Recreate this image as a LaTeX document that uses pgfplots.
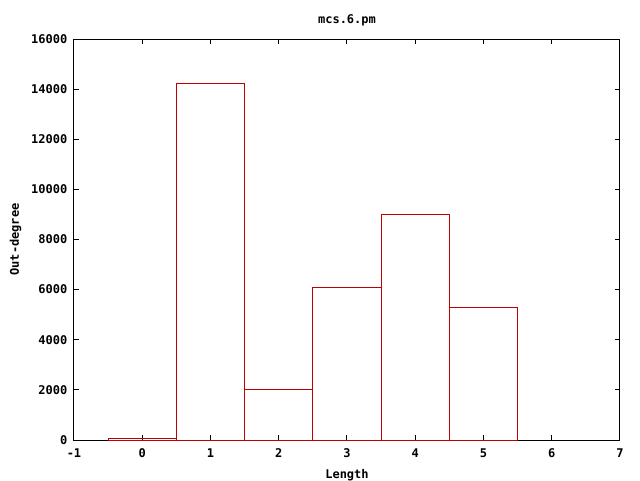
\documentclass[border=0pt]{standalone}
\usepackage{pgfplots}
\pgfplotsset{compat=1.18}
\usepackage{fontspec}
\setmainfont{DejaVu Sans Mono}
\definecolor{gpred}{RGB}{192,0,0}
\begin{document}
\begin{tikzpicture}
\path[use as bounding box] (-55.5pt,-30pt) rectangle (424.5pt,330pt);
\begin{axis}[
  at={(0,0)}, anchor=south west,
  scale only axis, width=409.5pt, height=300.75pt,
  xmin=-1, xmax=7, ymin=0, ymax=16000,
  xtick={-1,0,...,7}, ytick={0,2000,...,16000},
  scaled y ticks=false,
  /pgf/number format/1000 sep={},
  /pgf/number format/assume math mode=true,
  tick align=inside, tick pos=both,
  major tick length=3.5pt,
  axis line style={line width=0.75pt, black},
  every tick/.style={line width=0.75pt, black},
  font=\bfseries\fontsize{9}{11}\selectfont,
  ticklabel style={font=\bfseries\fontsize{9}{11}\selectfont},
  yticklabel style={xshift=-1.5pt},
  xticklabel style={yshift=-3pt},
  title={mcs.6.pm},
  title style={yshift=0pt},
  xlabel={Length}, ylabel={Out-degree},
  xlabel style={yshift=-2pt},
  ylabel style={yshift=0.5pt},
]
\addplot[ybar, bar width=1, bar shift=0pt, draw=gpred, fill=none, line width=0.75pt]
  coordinates {(0,50) (1,14230) (2,2000) (3,6090) (4,8980) (5,5300)};
\end{axis}
\end{tikzpicture}
\end{document}
